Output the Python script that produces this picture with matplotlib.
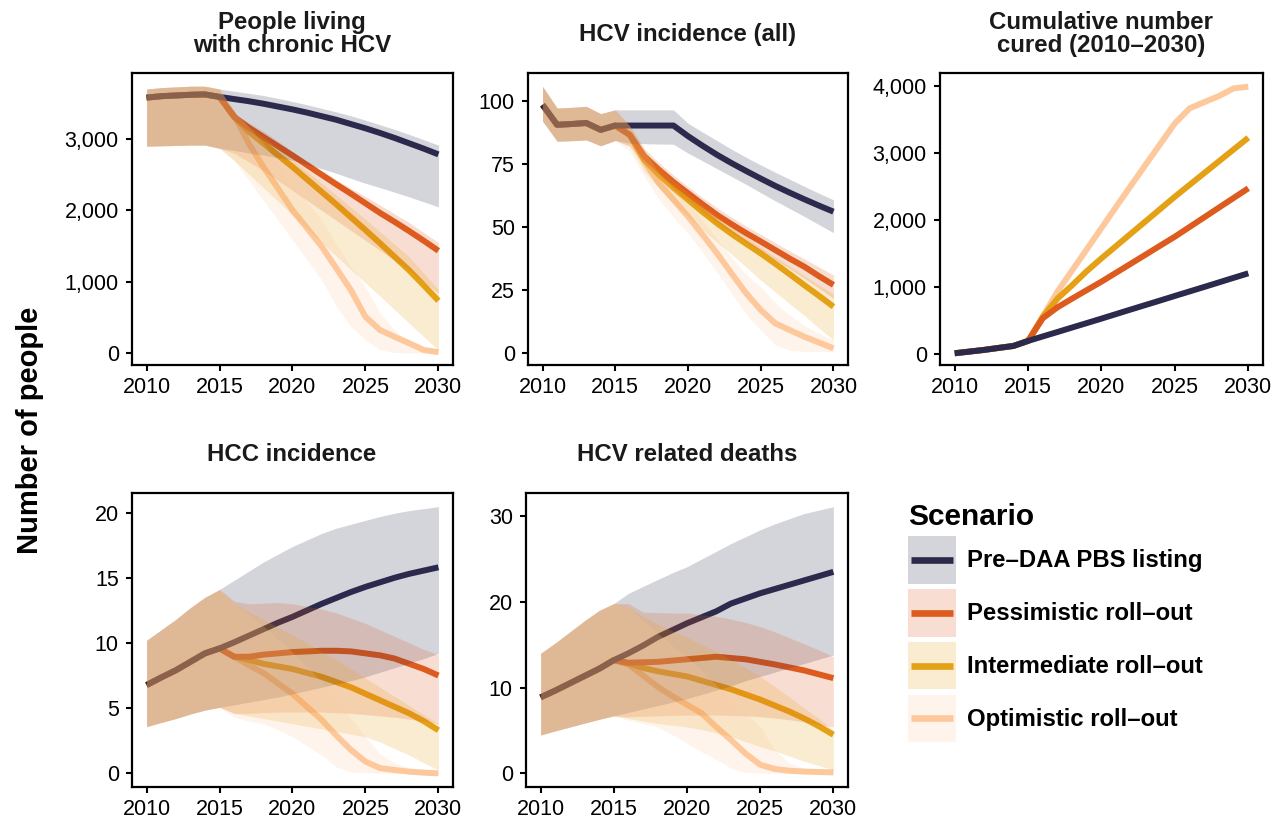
import matplotlib
matplotlib.use("Agg")
import matplotlib.pyplot as plt
from matplotlib.patches import Patch, Rectangle
from matplotlib.lines import Line2D
from matplotlib.ticker import FuncFormatter

plt.rcParams['font.family'] = ['Liberation Sans', 'DejaVu Sans']

hist_years = list(range(2010, 2016))
proj_years = list(range(2015, 2031))

scenarios = ["Pre–DAA PBS listing", "Pessimistic roll–out",
             "Intermediate roll–out", "Optimistic roll–out"]
colors = ["#2b2a4c", "#dd5b1e", "#e5a116", "#fec89d"]

# People living with chronic HCV
pl_hist_mid = [3580, 3600, 3610, 3620, 3625, 3590]
pl_hist_lo = [2900, 2905, 2910, 2915, 2915, 2870]
pl_hist_hi = [3700, 3720, 3730, 3740, 3740, 3700]
pl_pre_mid = [3590, 3560, 3530, 3495, 3455, 3415, 3370, 3320, 3270, 3210, 3150, 3085, 3015, 2940, 2865, 2785]
pl_pre_lo = [2870, 2840, 2805, 2775, 2740, 2705, 2645, 2585, 2520, 2450, 2380, 2320, 2255, 2190, 2120, 2050]
pl_pre_hi = [3700, 3670, 3640, 3610, 3570, 3525, 3480, 3430, 3380, 3325, 3265, 3200, 3135, 3065, 2990, 2915]
pl_pes_mid = [3590, 3310, 3160, 3030, 2900, 2770, 2635, 2500, 2365, 2235, 2100, 1965, 1840, 1710, 1575, 1435]
pl_pes_lo = [2870, 2800, 2680, 2560, 2420, 2280, 2140, 2000, 1860, 1720, 1580, 1440, 1300, 1160, 1000, 840]
pl_pes_hi = [3700, 3360, 3230, 3110, 2970, 2825, 2690, 2560, 2430, 2310, 2195, 2075, 1950, 1830, 1690, 1550]
pl_int_mid = [3590, 3310, 3105, 2940, 2775, 2610, 2435, 2260, 2085, 1905, 1725, 1540, 1350, 1160, 950, 735]
pl_int_lo = [2870, 2700, 2510, 2320, 2130, 1930, 1740, 1550, 1360, 1170, 985, 800, 610, 420, 230, 45]
pl_int_hi = [3700, 3360, 3180, 3030, 2870, 2710, 2545, 2380, 2215, 2045, 1875, 1700, 1525, 1350, 1120, 890]
pl_opt_mid = [3590, 3330, 2940, 2610, 2310, 2005, 1750, 1495, 1190, 885, 510, 325, 230, 140, 45, 15]
pl_opt_lo = [2870, 2700, 2420, 2145, 1865, 1585, 1305, 1025, 655, 375, 185, 45, 10, 5, 5, 5]
pl_opt_hi = [3700, 3400, 3170, 2940, 2660, 2380, 2120, 1855, 1530, 1210, 930, 560, 325, 140, 90, 45]

# HCV incidence (all)
inc_hist_mid = [98.4, 90.5, 90.8, 91.2, 88.5, 90.2]
inc_hist_lo = [92, 84, 84.2, 84.5, 82.2, 84.3]
inc_hist_hi = [105.7, 97.1, 97.4, 97.8, 94.9, 96.4]
inc_pre_mid = [90.2, 90.2, 90.2, 90.2, 90.2, 86.0, 82.2, 78.6, 75.3, 72.2, 69.2, 66.3, 63.6, 61.0, 58.5, 56.1]
inc_pre_lo = [84.3, 83.2, 83.0, 82.9, 82.8, 79.3, 76.2, 73.1, 70.0, 66.9, 63.6, 60.4, 57.3, 54.2, 51.0, 47.8]
inc_pre_hi = [96.4, 96.4, 96.4, 96.4, 96.4, 91.1, 87.6, 84.2, 80.8, 77.6, 74.6, 71.7, 68.9, 66.1, 63.4, 60.8]
inc_pes_mid = [90.2, 86.5, 78.0, 72.7, 67.8, 63.4, 59.0, 54.8, 51.1, 47.6, 44.3, 40.9, 37.5, 34.3, 30.6, 27.1]
inc_pes_lo = [84.3, 82, 75, 69.8, 65, 60.5, 56, 51.7, 47.8, 44.1, 40.6, 37.0, 33.5, 29.7, 25.8, 21.8]
inc_pes_hi = [96.4, 90, 81, 75.5, 70.5, 66, 61.7, 57.6, 53.9, 50.4, 47.1, 43.8, 40.5, 37.4, 34.2, 31]
inc_int_mid = [90.2, 86.5, 76.6, 70.7, 65.5, 60.8, 56.0, 51.5, 47.3, 43.4, 39.6, 35.5, 31.3, 27.0, 22.8, 18.5]
inc_int_lo = [84.3, 82, 72, 65.5, 59.5, 54, 48.9, 44, 39.2, 34.2, 29, 24.3, 19.6, 15, 10, 5.3]
inc_int_hi = [96.4, 90, 80, 74, 68.6, 63.5, 58.8, 54.3, 50.1, 46, 42, 38.2, 34.5, 30.8, 27, 23.5]
inc_opt_mid = [90.2, 86.5, 76, 67.4, 60.8, 54.2, 47, 39.6, 31.6, 23.8, 17.2, 11.9, 9.2, 6.6, 4.3, 2.0]
inc_opt_lo = [84.3, 80, 70, 61, 54, 47.6, 40, 32, 23.8, 15.5, 9.2, 3.3, 1.3, 0.8, 0.7, 0.7]
inc_opt_hi = [96.4, 90, 80, 71.5, 65, 59.4, 52.5, 45.3, 38, 31, 26.4, 20, 15, 11, 8, 5.3]

# Cumulative number cured
cur_hist_mid = [15, 40, 65, 95, 124, 199]
cur_pre_mid = [199, 266, 332, 399, 465, 532, 600, 668, 735, 802, 870, 937, 1004, 1072, 1140, 1207]
cur_pes_mid = [199, 537, 700, 830, 957, 1083, 1217, 1351, 1485, 1620, 1754, 1898, 2042, 2187, 2331, 2475]
cur_int_mid = [199, 560, 830, 1030, 1240, 1431, 1615, 1799, 1982, 2166, 2350, 2526, 2702, 2878, 3054, 3230]
cur_opt_mid = [199, 561, 934, 1250, 1566, 1883, 2200, 2514, 2825, 3135, 3444, 3667, 3760, 3850, 3965, 3990]

# HCC incidence
hcc_hist_mid = [6.77, 7.35, 7.9, 8.55, 9.2, 9.58]
hcc_hist_lo = [3.58, 3.9, 4.2, 4.55, 4.85, 5.06]
hcc_hist_hi = [10.2, 11.0, 11.8, 12.7, 13.5, 14.1]
hcc_pre_mid = [9.58, 10.05, 10.55, 11.05, 11.55, 12.0, 12.5, 13.0, 13.45, 13.9, 14.3, 14.65, 15.0, 15.3, 15.55, 15.8]
hcc_pre_lo = [5.06, 5.25, 5.45, 5.65, 5.85, 6.1, 6.35, 6.6, 6.85, 7.1, 7.4, 7.75, 8.1, 8.45, 8.8, 9.2]
hcc_pre_hi = [14.1, 14.8, 15.5, 16.2, 16.8, 17.4, 17.9, 18.4, 18.8, 19.1, 19.4, 19.7, 19.95, 20.15, 20.3, 20.45]
hcc_pes_mid = [9.58, 8.94, 8.94, 9.1, 9.2, 9.3, 9.35, 9.4, 9.4, 9.35, 9.2, 9.05, 8.8, 8.4, 8.0, 7.5]
hcc_pes_lo = [5.06, 4.6, 4.6, 4.65, 4.7, 4.7, 4.7, 4.7, 4.65, 4.6, 4.5, 4.4, 4.3, 4.15, 4.0, 3.8]
hcc_pes_hi = [14.1, 13.2, 13.0, 13.05, 13.1, 13.0, 12.8, 12.6, 12.3, 11.9, 11.5, 11.0, 10.5, 10.0, 9.5, 9.1]
hcc_int_mid = [9.58, 8.94, 8.7, 8.4, 8.2, 8.0, 7.7, 7.4, 7.0, 6.6, 6.1, 5.6, 5.1, 4.6, 4.0, 3.3]
hcc_int_lo = [5.06, 4.6, 4.4, 4.2, 4.0, 3.8, 3.6, 3.4, 3.2, 3.0, 2.8, 2.4, 1.9, 1.4, 0.8, 0.26]
hcc_int_hi = [14.1, 13.0, 12.4, 11.8, 11.2, 10.6, 10.0, 9.3, 8.7, 8.0, 7.3, 6.6, 5.9, 5.2, 4.5, 3.8]
hcc_opt_mid = [9.58, 8.94, 8.3, 7.7, 6.9, 6.1, 5.1, 4.1, 2.9, 1.8, 0.9, 0.4, 0.25, 0.13, 0.05, 0.0]
hcc_opt_lo = [5.06, 4.3, 4.0, 3.8, 3.35, 2.8, 2.1, 1.4, 0.5, 0.1, 0.05, 0, 0, 0, 0, 0]
hcc_opt_hi = [14.1, 13.0, 12.2, 11.3, 10.3, 9.3, 8.2, 7.0, 5.7, 4.2, 2.8, 1.5, 0.8, 0.4, 0.2, 0.1]

# HCV related deaths
dth_hist_mid = [8.86, 9.65, 10.5, 11.35, 12.2, 13.2]
dth_hist_lo = [4.47, 4.95, 5.4, 5.85, 6.3, 6.7]
dth_hist_hi = [14.0, 15.2, 16.5, 17.8, 19.0, 19.8]
dth_pre_mid = [13.2, 14.0, 14.9, 15.9, 16.7, 17.5, 18.2, 18.9, 19.8, 20.4, 21.0, 21.5, 22.0, 22.5, 23.0, 23.5]
dth_pre_lo = [6.7, 7.1, 7.5, 7.9, 8.3, 8.7, 9.2, 9.7, 10.2, 10.8, 11.3, 11.8, 12.3, 12.8, 13.3, 13.8]
dth_pre_hi = [19.8, 21.0, 21.8, 22.6, 23.4, 24.1, 25.0, 25.9, 26.8, 27.6, 28.4, 29.1, 29.7, 30.3, 30.7, 31.1]
dth_pes_mid = [13.2, 12.9, 12.95, 13.0, 13.15, 13.3, 13.45, 13.6, 13.45, 13.3, 13.0, 12.7, 12.35, 12.0, 11.55, 11.1]
dth_pes_lo = [6.7, 6.6, 6.65, 6.7, 6.75, 6.8, 6.8, 6.8, 6.75, 6.7, 6.6, 6.45, 6.25, 6.0, 5.7, 5.4]
dth_pes_hi = [19.8, 19.8, 18.8, 18.75, 18.7, 18.7, 18.5, 18.3, 18.0, 17.6, 17.1, 16.5, 15.8, 15.1, 14.4, 13.6]
dth_int_mid = [13.2, 12.8, 12.3, 11.9, 11.6, 11.3, 10.8, 10.3, 9.8, 9.2, 8.6, 7.9, 7.2, 6.4, 5.5, 4.5]
dth_int_lo = [6.7, 6.4, 6.1, 5.8, 5.6, 5.4, 5.1, 4.7, 4.3, 3.7, 3.1, 2.6, 2.0, 1.4, 0.9, 0.4]
dth_int_hi = [19.8, 19.4, 18.3, 17.4, 16.6, 15.9, 15.0, 14.2, 13.2, 12.3, 11.3, 10.1, 8.9, 7.6, 6.4, 5.1]
dth_opt_mid = [13.2, 12.7, 11.4, 10.1, 9.0, 8.0, 7.0, 5.4, 3.9, 2.3, 1.0, 0.5, 0.3, 0.2, 0.15, 0.1]
dth_opt_lo = [6.7, 6.2, 5.8, 5.4, 4.5, 3.5, 2.5, 1.6, 0.6, 0.1, 0, 0, 0, 0, 0, 0]
dth_opt_hi = [19.8, 19.4, 17.8, 16.3, 14.9, 13.6, 12.0, 10.3, 8.6, 7.0, 5.4, 2.7, 1.2, 0.6, 0.4, 0.3]

W, H = 1286, 823
fig = plt.figure(figsize=(W / 100, H / 100), dpi=100)


def px_axes(left, top, right, bottom):
    return fig.add_axes([left / W, 1 - bottom / H, (right - left) / W, (bottom - top) / H])


def draw(ax, hist, proj, ylim, yticks):
    x = hist_years + proj_years[1:]
    for i in reversed(range(4)):
        ax.plot(x, hist[0] + proj[i][0][1:], color=colors[i], lw=4.3,
                solid_capstyle='butt', solid_joinstyle='round', zorder=2)
    if len(hist) == 3:
        for i in range(4):
            ax.fill_between(x, hist[1] + proj[i][1][1:], hist[2] + proj[i][2][1:],
                            color=colors[i], alpha=0.2, lw=0, zorder=3)
    ax.set_xlim(2009, 2031)
    ax.set_ylim(*ylim)
    ax.set_xticks([2010, 2015, 2020, 2025, 2030])
    ax.set_yticks(yticks)
    ax.yaxis.set_major_formatter(FuncFormatter(lambda v, p: f"{int(v):,}"))
    for s in ax.spines.values():
        s.set_linewidth(1.6)
    ax.tick_params(direction='out', length=4.5, width=1.5, labelsize=15.5,
                   colors='black')
    ax.tick_params(axis='x', pad=4.3)
    ax.tick_params(axis='y', pad=5)


ax1 = px_axes(132, 73, 453, 365)
draw(ax1, (pl_hist_mid, pl_hist_lo, pl_hist_hi),
     [(pl_pre_mid, pl_pre_lo, pl_pre_hi), (pl_pes_mid, pl_pes_lo, pl_pes_hi),
      (pl_int_mid, pl_int_lo, pl_int_hi), (pl_opt_mid, pl_opt_lo, pl_opt_hi)],
     (-165, 3925), [0, 1000, 2000, 3000])

ax2 = px_axes(528, 73, 848, 365)
draw(ax2, (inc_hist_mid, inc_hist_lo, inc_hist_hi),
     [(inc_pre_mid, inc_pre_lo, inc_pre_hi), (inc_pes_mid, inc_pes_lo, inc_pes_hi),
      (inc_int_mid, inc_int_lo, inc_int_hi), (inc_opt_mid, inc_opt_lo, inc_opt_hi)],
     (-4.6, 111), [0, 25, 50, 75, 100])

ax3 = px_axes(940, 73, 1263, 365)
draw(ax3, (cur_hist_mid,),
     [(cur_pre_mid,), (cur_pes_mid,), (cur_int_mid,), (cur_opt_mid,)],
     (-160, 4194), [0, 1000, 2000, 3000, 4000])

ax4 = px_axes(132, 493, 453, 787)
draw(ax4, (hcc_hist_mid, hcc_hist_lo, hcc_hist_hi),
     [(hcc_pre_mid, hcc_pre_lo, hcc_pre_hi), (hcc_pes_mid, hcc_pes_lo, hcc_pes_hi),
      (hcc_int_mid, hcc_int_lo, hcc_int_hi), (hcc_opt_mid, hcc_opt_lo, hcc_opt_hi)],
     (-1.05, 21.5), [0, 5, 10, 15, 20])

ax5 = px_axes(526, 493, 848, 787)
draw(ax5, (dth_hist_mid, dth_hist_lo, dth_hist_hi),
     [(dth_pre_mid, dth_pre_lo, dth_pre_hi), (dth_pes_mid, dth_pes_lo, dth_pes_hi),
      (dth_int_mid, dth_int_lo, dth_int_hi), (dth_opt_mid, dth_opt_lo, dth_opt_hi)],
     (-1.6, 32.7), [0, 10, 20, 30])

titles = [("People living\nwith chronic HCV", 292, 34),
          ("HCV incidence (all)", 688, 35),
          ("Cumulative number\ncured (2010–2030)", 1101, 34),
          ("HCC incidence", 292, 455),
          ("HCV related deaths", 687, 455)]
for text, xc, yc in titles:
    fig.text(xc / W, 1 - yc / H, text, ha='center', va='center', ma='center',
             fontsize=17.3, fontweight='bold', color='#1a1a1a', linespacing=1.0)

fig.text(30 / W, 1 - 430 / H, "Number of people", rotation=90, ha='center',
         va='center', fontsize=21, fontweight='bold')


class KeyHandler:
    # shaded square with a shorter line across the middle, like a ggplot key
    def legend_artist(self, legend, orig_handle, fontsize, handlebox):
        x0, y0 = -handlebox.xdescent, -handlebox.ydescent
        w, h = handlebox.width, handlebox.height
        c = orig_handle.get_facecolor()[:3]
        rect = Rectangle((x0, y0), w, h, facecolor=c, alpha=0.2, lw=0,
                         transform=handlebox.get_transform())
        line = Line2D([x0 + 0.07 * w, x0 + 0.93 * w], [y0 + h / 2] * 2,
                      color=c, lw=4.8, solid_capstyle='butt',
                      transform=handlebox.get_transform())
        handlebox.add_artist(rect)
        handlebox.add_artist(line)
        return rect


handles = [Patch(facecolor=c) for c in colors]
fig.legend(handles=handles, labels=scenarios,
           handler_map={Patch: KeyHandler()},
           loc='upper left', bbox_to_anchor=(889 / W, 1 - 484 / H),
           frameon=False, title="Scenario", alignment='left',
           title_fontproperties={'weight': 'bold', 'size': 21.5},
           prop={'weight': 'bold', 'size': 17.2},
           handlelength=2.0, handleheight=2.7, labelspacing=0.21,
           handletextpad=0.45, borderpad=0.3)

fig.savefig("out.png", dpi=100)
